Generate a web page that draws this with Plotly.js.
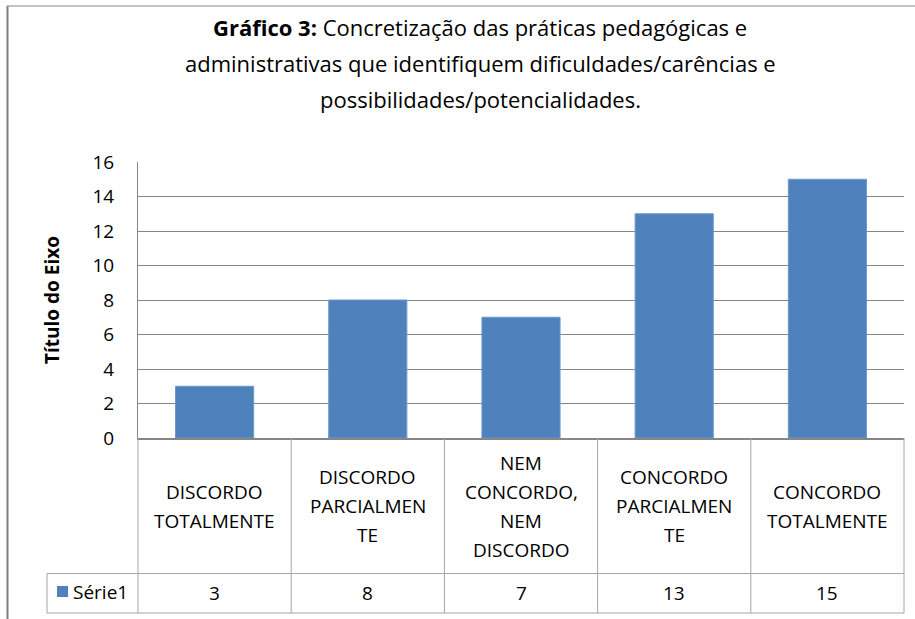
<!DOCTYPE html>
<html>
<head>
<meta charset="utf-8">
<script src="https://cdn.plot.ly/plotly-3.0.1.min.js"></script>
<style>html,body{margin:0;padding:0;background:#fff;}#chart{width:915px;height:619px;}</style>
</head>
<body>
<div id="chart"></div>
<script>
// ---- data ----
const categories = ["DISCORDO TOTALMENTE", "DISCORDO PARCIALMENTE", "NEM CONCORDO, NEM DISCORDO", "CONCORDO PARCIALMENTE", "CONCORDO TOTALMENTE"];
const categoryLines = [
  ["DISCORDO", "TOTALMENTE"],
  ["DISCORDO", "PARCIALMEN", "TE"],
  ["NEM", "CONCORDO,", "NEM", "DISCORDO"],
  ["CONCORDO", "PARCIALMEN", "TE"],
  ["CONCORDO", "TOTALMENTE"]
];
const values = [3, 8, 7, 13, 15];
const seriesName = "Série1";
const yTickValues = [0, 2, 4, 6, 8, 10, 12, 14, 16];
const titleLines = [
  "<b>Gráfico 3:</b> Concretização das práticas pedagógicas e",
  "administrativas que identifiquem dificuldades/carências e",
  "possibilidades/potencialidades."
];
const yTitle = "Título do Eixo";

// ---- geometry (pixels) ----
const W = 915, H = 619;
const L = 138, R = 904, T = 162, B = 438;
const PW = R - L, PH = B - T;
const px = p => (p - L) / PW;
const py = p => (B - p) / PH;

const FONT = "Open Sans, Noto Sans, sans-serif";
const GRID = "#868686";
const TBL = "#a6a6a6";
const BAR = "#4F81BD";

const annotations = [];
// title
const titleY = [27, 63, 99];
titleLines.forEach((t, i) => annotations.push({
  text: t, xref: "paper", yref: "paper", x: px(480), y: py(titleY[i]),
  xanchor: "center", yanchor: "middle", showarrow: false,
  font: {family: FONT, size: 22, color: "#000"}
}));
// y title
annotations.push({
  text: "<b>" + yTitle + "</b>", xref: "paper", yref: "paper", x: px(52), y: 0.5,
  textangle: -90, xanchor: "center", yanchor: "middle", showarrow: false,
  font: {family: FONT, size: 19, color: "#000"}
});
// category labels in table
categoryLines.forEach((lines, i) => {
  const n = lines.length;
  lines.forEach((ln, k) => annotations.push({
    text: ln, xref: "x", yref: "paper", x: categories[i], y: py(506 + (k - (n - 1) / 2) * 29),
    xanchor: "center", yanchor: "middle", showarrow: false,
    font: {family: FONT, size: 19, color: "#000"}
  }));
});
// values row
values.forEach((v, i) => annotations.push({
  text: String(v), xref: "x", yref: "paper", x: categories[i], y: py(593),
  xanchor: "center", yanchor: "middle", showarrow: false,
  font: {family: FONT, size: 19, color: "#000"}
}));
// legend cell text
annotations.push({
  text: seriesName, xref: "paper", yref: "paper", x: px(71), y: py(592),
  xanchor: "left", yanchor: "middle", showarrow: false,
  font: {family: FONT, size: 19, color: "#000"}
});

const shapes = [];
const hline = (x0, x1, y, c, w) => shapes.push({type: "line", xref: "paper", yref: "paper", x0: px(x0), x1: px(x1), y0: py(y), y1: py(y), line: {color: c, width: w}});
const vline = (x, y0, y1, c, w) => shapes.push({type: "line", xref: "paper", yref: "paper", x0: px(x), x1: px(x), y0: py(y0), y1: py(y1), line: {color: c, width: w}});
// table grid
const nCat = categories.length;
for (let i = 0; i <= nCat; i++) {
  vline(L + PW * i / nCat, B, 613, TBL, 1);
}
hline(47, R, 573.5, TBL, 1);
hline(47, R, 613, TBL, 1);
vline(47, 573.5, 613, TBL, 1);
// legend key
shapes.push({type: "rect", xref: "paper", yref: "paper", x0: px(57), x1: px(68), y0: py(586), y1: py(597), fillcolor: BAR, line: {width: 0}});
// outer chart border
vline(7.5, 6, H + 2, "#7f7f7f", 2);
hline(7, W + 2, 6, "#8a8a8a", 1.2);

const trace = {
  type: "bar", x: categories, y: values, name: seriesName,
  marker: {color: BAR, line: {color: "#6c98cc", width: 1}},
  hoverinfo: "skip"
};

const layout = {
  width: W, height: H,
  margin: {l: L, r: W - R, t: T, b: H - B, pad: 0},
  paper_bgcolor: "#fff", plot_bgcolor: "#fff",
  showlegend: false,
  bargap: 0.49,
  xaxis: {
    type: "category", showticklabels: false, ticks: "", showgrid: false,
    showline: true, linecolor: GRID, linewidth: 1.5, zeroline: false, fixedrange: true
  },
  yaxis: {
    range: [0, 16], tickvals: yTickValues, ticktext: yTickValues.map(String),
    showgrid: true, gridcolor: GRID, gridwidth: 1,
    showline: true, linecolor: GRID, linewidth: 1, zeroline: false,
    ticks: "", ticklabelstandoff: 19,
    tickfont: {family: FONT, size: 19, color: "#000"}, fixedrange: true
  },
  annotations: annotations,
  shapes: shapes
};

Plotly.newPlot("chart", [trace], layout, {staticPlot: true, displayModeBar: false});
</script>
</body>
</html>
